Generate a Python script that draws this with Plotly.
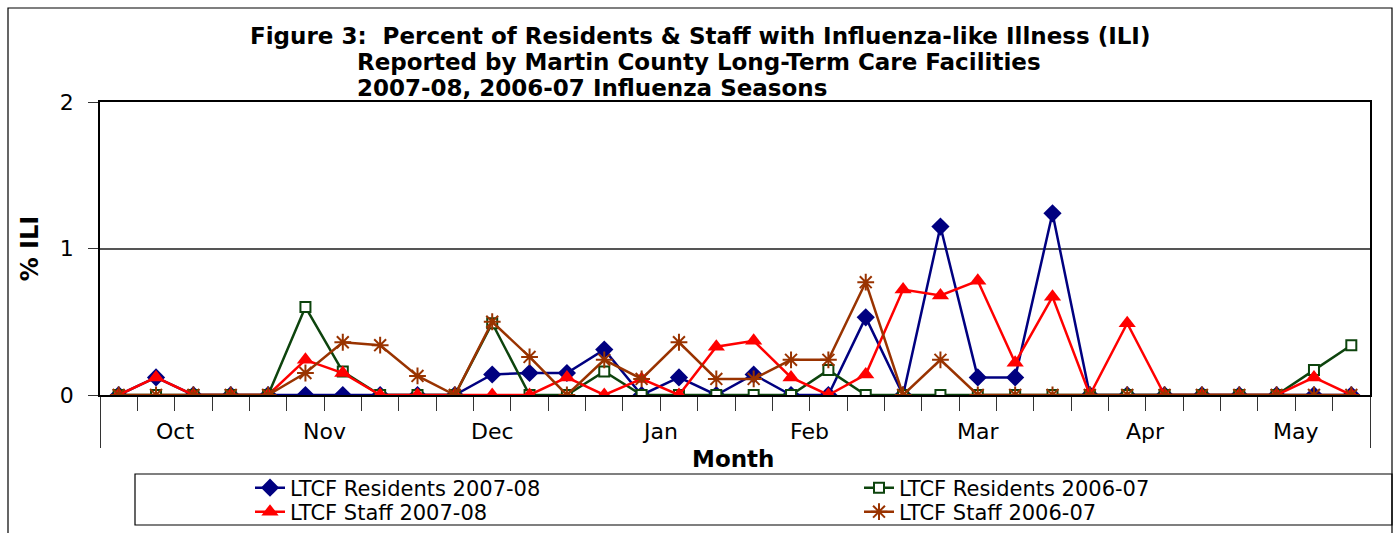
import plotly.graph_objects as go

# ---------------- data ----------------
months = ["Oct", "Nov", "Dec", "Jan", "Feb", "Mar", "Apr", "May"]
weeks_per_month = [4, 4, 5, 4, 4, 5, 4, 4]

res_0708 = [0, 0.12, 0, 0,
            0, 0, 0, 0,
            0, 0, 0.14, 0.15, 0.15,
            0.31, 0, 0.12, 0,
            0.14, 0, 0, 0.53,
            0, 1.15, 0.12, 0.12, 1.24,
            0, 0, 0, 0,
            0, 0, 0, 0]
res_0607 = [0, 0, 0, 0,
            0, 0.60, 0.16, 0,
            0, 0, 0.49, 0, 0,
            0.16, 0, 0, 0,
            0, 0, 0.17, 0,
            0, 0, 0, 0, 0,
            0, 0, 0, 0,
            0, 0, 0.17, 0.34]
staff_0708 = [0, 0.12, 0, 0,
              0, 0.24, 0.15, 0,
              0, 0, 0, 0, 0.12,
              0, 0.11, 0, 0.33,
              0.37, 0.12, 0, 0.14,
              0.72, 0.68, 0.78, 0.22, 0.67,
              0, 0.49, 0, 0,
              0, 0, 0.12, 0]
staff_0607 = [0, 0, 0, 0,
              0, 0.15, 0.36, 0.34,
              0.13, 0, 0.50, 0.26, 0,
              0.24, 0.11, 0.36, 0.11,
              0.11, 0.24, 0.24, 0.77,
              0, 0.24, 0, 0, 0,
              0, 0, 0, 0,
              0, 0, 0, 0]

series_names = ["LTCF Residents 2007-08", "LTCF Residents 2006-07",
                "LTCF Staff 2007-08", "LTCF Staff 2006-07"]
y_ticks = [0, 1, 2]

# ---------------- derived positions ----------------
n_weeks = sum(weeks_per_month)
x_idx = list(range(n_weeks))
bounds = [-0.5]
for w in weeks_per_month:
    bounds.append(bounds[-1] + w)
centers = [(bounds[i] + bounds[i + 1]) / 2 for i in range(len(months))]
week_bounds = [i + 0.5 for i in range(n_weeks - 1)]

W, H = 1398, 533
L, R, T, B = 100, 28, 102, 138
PW, PH = W - L - R, H - T - B


def px_x(p):
    return (p - L) / PW


def px_y(p):
    return (H - B - p) / PH


FONT = "DejaVu Sans, Arial, sans-serif"

fig = go.Figure()

fig.add_trace(go.Scatter(
    x=x_idx, y=res_0708, name=series_names[0], mode="lines+markers",
    line=dict(color="#000080", width=2.5),
    marker=dict(symbol="diamond", size=14, color="#000080"),
    legend="legend"))
fig.add_trace(go.Scatter(
    x=x_idx, y=res_0607, name=series_names[1], mode="lines+markers",
    line=dict(color="#0d440d", width=2.5),
    marker=dict(symbol="square", size=10, color="white",
                line=dict(color="#0d440d", width=2)),
    legend="legend"))
fig.add_trace(go.Scatter(
    x=x_idx, y=staff_0708, name=series_names[2], mode="lines+markers",
    line=dict(color="#ff0000", width=2.5),
    marker=dict(symbol="triangle-up", size=15, color="#ff0000"),
    legend="legend2"))
fig.add_trace(go.Scatter(
    x=x_idx, y=staff_0607, name=series_names[3], mode="lines+markers",
    line=dict(color="#993300", width=2.5),
    marker=dict(symbol="asterisk-open", size=14, color="#993300",
                line=dict(color="#993300", width=2)),
    legend="legend2"))

annotations = []
for m, c in zip(months, centers):
    annotations.append(dict(x=c, y=px_y(432), xref="x", yref="paper",
                            text=m, showarrow=False, yanchor="middle",
                            font=dict(family=FONT, size=22, color="black")))
annotations.append(dict(x=px_x(733), y=px_y(459), xref="paper", yref="paper",
                        text="<b>Month</b>", showarrow=False, yanchor="middle",
                        font=dict(family=FONT, size=23, color="black")))
title_lines = ["Figure 3:  Percent of Residents &amp; Staff with Influenza-like Illness (ILI)",
               "Reported by Martin County Long-Term Care Facilities",
               "2007-08, 2006-07 Influenza Seasons"]
annotations.append(dict(x=px_x(700), y=px_y(36), xref="paper", yref="paper",
                        text="<b>" + title_lines[0] + "</b>", showarrow=False,
                        xanchor="center", yanchor="middle",
                        font=dict(family=FONT, size=23, color="black")))
for ln, yy in zip(title_lines[1:], [62, 88]):
    annotations.append(dict(x=px_x(355), y=px_y(yy), xref="paper", yref="paper",
                            text="<b>" + ln + "</b>", showarrow=False,
                            xanchor="left", yanchor="middle",
                            font=dict(family=FONT, size=23, color="black")))

shapes = [
    dict(type="rect", xref="paper", yref="paper",
         x0=px_x(8), x1=px_x(1392), y0=px_y(545), y1=px_y(8),
         line=dict(color="black", width=1.2), layer="below"),
    dict(type="rect", xref="paper", yref="paper",
         x0=px_x(135), x1=px_x(1392), y0=px_y(525), y1=px_y(474),
         line=dict(color="black", width=1.2), layer="below"),
]

legend_common = dict(orientation="h", xanchor="left", yanchor="middle",
                     bgcolor="rgba(0,0,0,0)", borderwidth=0,
                     font=dict(family=FONT, size=21, color="black"),
                     entrywidth=564, entrywidthmode="pixels",
                     itemwidth=30, tracegroupgap=0)

fig.update_layout(
    width=W, height=H,
    margin=dict(l=L, r=R, t=T, b=B, autoexpand=False),
    paper_bgcolor="white", plot_bgcolor="white",
    showlegend=True,
    legend=dict(x=px_x(250), y=px_y(488), **legend_common),
    legend2=dict(x=px_x(250), y=px_y(512), **legend_common),
    annotations=annotations,
    shapes=shapes,
    xaxis=dict(range=[-0.5, n_weeks - 0.5], showgrid=False, zeroline=False,
               showline=True, linecolor="black", linewidth=1.5, mirror=True,
               tickmode="array", tickvals=bounds, ticktext=[""] * len(bounds),
               ticks="outside", ticklen=51, tickcolor="#333", tickwidth=1.2,
               minor=dict(tickmode="array", tickvals=week_bounds,
                          ticks="outside", ticklen=14, tickcolor="#333",
                          tickwidth=1.2, showgrid=False)),
    yaxis=dict(range=[0, 2], tickmode="array", tickvals=y_ticks,
               ticktext=[str(v) for v in y_ticks],
               showgrid=True, gridcolor="#555555", gridwidth=1.5,
               zeroline=False, showline=True, linecolor="black", linewidth=1.5,
               mirror=True, ticks="outside", ticklen=10, tickcolor="#333",
               ticklabelstandoff=10,
               tickfont=dict(family=FONT, size=22, color="black"),
               title=dict(text="<b>% ILI</b>", standoff=14,
                          font=dict(family=FONT, size=24, color="black"))),
)

fig.write_html("out.html",
               config={"displayModeBar": False},
               post_script="document.body.style.margin='0';"
                           "document.body.style.overflow='hidden';")
